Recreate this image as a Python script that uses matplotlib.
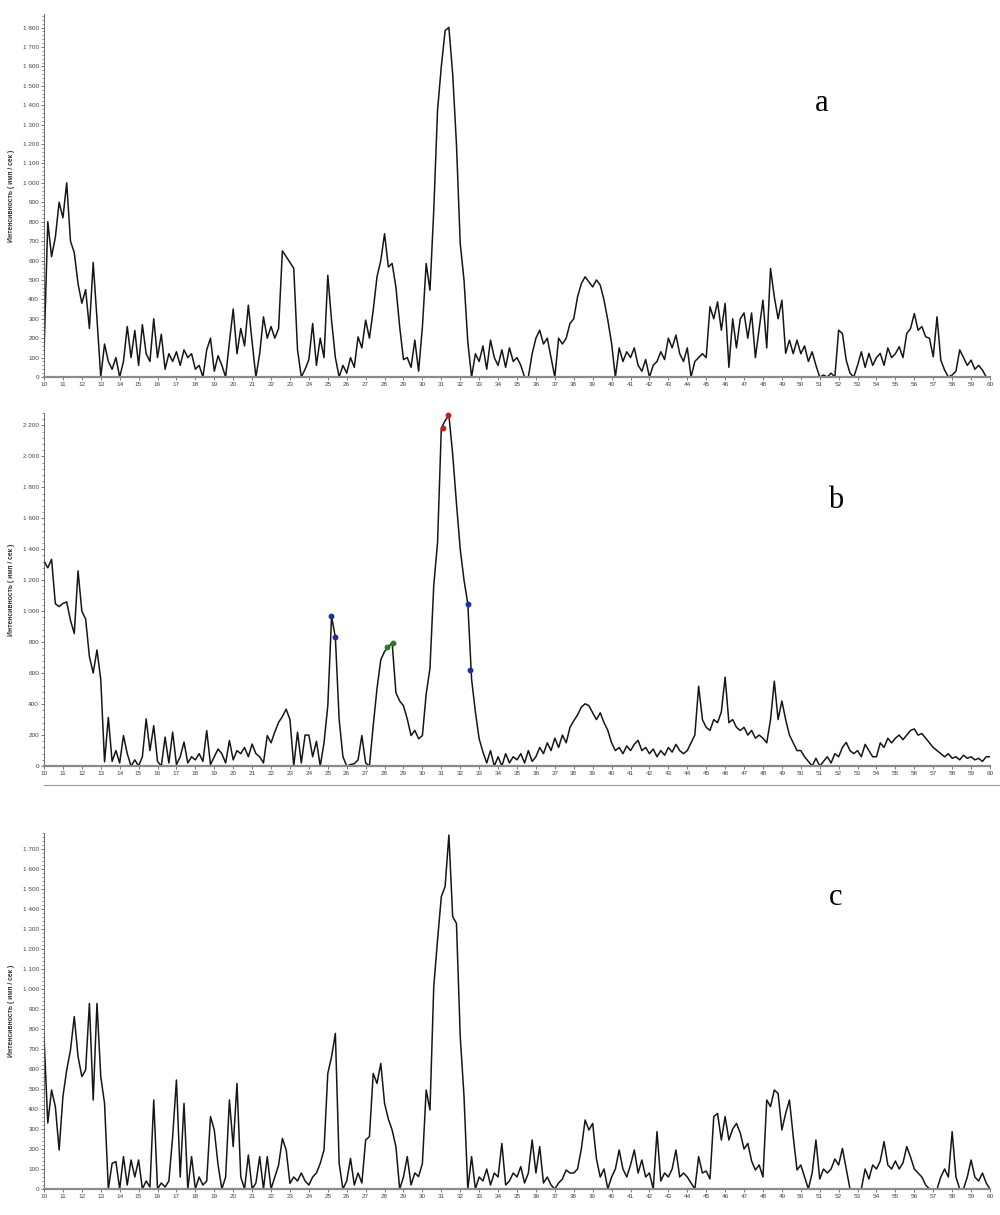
import numpy as np
import matplotlib
matplotlib.use("Agg")
import matplotlib.pyplot as plt
from matplotlib.ticker import MultipleLocator, FuncFormatter
from matplotlib.lines import Line2D

plt.rcParams['font.family'] = ['Liberation Sans', 'DejaVu Sans']

# 2-theta grid, 0.2 degree step from 10 to 60
two_theta = np.round(np.arange(10.0, 60.01, 0.2), 1)

# sample a
int_a = [
    120, 800, 620, 720, 900,
    820, 1000, 700, 640, 480,
    380, 450, 250, 590, 300,
    0, 170, 80, 40, 100,
    0, 80, 260, 100, 240,
    60, 270, 120, 80, 300,
    100, 220, 40, 120, 80,
    130, 60, 140, 100, 120,
    40, 60, 0, 140, 200,
    30, 110, 60, 0, 180,
    350, 120, 250, 160, 370,
    180, 0, 120, 310, 200,
    260, 200, 250, 650, 620,
    590, 560, 140, 0, 40,
    90, 276, 60, 200, 100,
    524, 290, 100, 0, 60,
    20, 100, 50, 207, 150,
    293, 200, 344, 516, 600,
    738, 567, 585, 464, 258,
    90, 100, 50, 190, 30,
    258, 585, 447, 858, 1373,
    1600, 1784, 1801, 1561, 1200,
    687, 499, 180, 0, 120,
    80, 160, 40, 190, 100,
    60, 140, 50, 150, 80,
    100, 60, 0, 0, 120,
    200, 241, 170, 200, 100,
    0, 200, 170, 200, 276,
    300, 413, 481, 516, 490,
    464, 500, 473, 396, 293,
    173, 0, 150, 80, 130,
    100, 150, 60, 30, 90,
    0, 60, 80, 130, 90,
    200, 150, 216, 120, 80,
    150, 0, 80, 100, 120,
    100, 362, 300, 387, 241,
    379, 50, 300, 150, 300,
    330, 200, 330, 100, 250,
    396, 150, 559, 413, 300,
    396, 122, 190, 120, 190,
    120, 160, 80, 130, 60,
    0, 10, 0, 20, 0,
    241, 224, 87, 20, 0,
    60, 130, 50, 122, 60,
    100, 122, 60, 150, 100,
    120, 156, 100, 224, 250,
    327, 241, 260, 207, 200,
    104, 310, 87, 36, 0,
    10, 30, 140, 100, 60,
    87, 40, 60, 36, 0,
    0,
]

# sample b
int_b = [
    1324, 1280, 1335, 1048, 1030,
    1050, 1060, 941, 856, 1260,
    1000, 950, 707, 601, 750,
    559, 27, 314, 30, 100,
    20, 197, 80, 0, 40,
    0, 60, 304, 100, 261,
    30, 0, 187, 20, 219,
    10, 60, 155, 20, 60,
    40, 80, 30, 229, 10,
    60, 110, 80, 20, 165,
    40, 100, 80, 120, 60,
    142, 80, 60, 20, 197,
    150, 220, 282, 320, 367,
    300, 0, 219, 20, 200,
    200, 60, 160, 0, 150,
    389, 967, 831, 300, 60,
    0, 10, 15, 40, 197,
    20, 0, 261, 500, 686,
    740, 767, 797, 474, 420,
    389, 304, 197, 230, 176,
    197, 465, 631, 1167, 1441,
    2181, 2230, 2266, 2015, 1696,
    1400, 1200, 1048, 560, 350,
    176, 91, 20, 100, 0,
    60, 0, 80, 20, 60,
    40, 80, 20, 100, 30,
    60, 120, 80, 150, 100,
    180, 120, 200, 150, 250,
    293, 330, 380, 402, 390,
    344, 300, 344, 280, 230,
    150, 100, 120, 80, 130,
    100, 140, 166, 100, 120,
    80, 110, 60, 100, 70,
    120, 90, 140, 100, 80,
    100, 150, 200, 516, 300,
    250, 230, 300, 280, 350,
    574, 280, 300, 250, 230,
    250, 200, 230, 180, 200,
    180, 150, 300, 548, 300,
    420, 300, 200, 150, 100,
    100, 60, 30, 0, 50,
    0, 30, 60, 20, 80,
    60, 120, 153, 100, 80,
    100, 60, 140, 100, 60,
    60, 150, 120, 180, 150,
    180, 200, 170, 200, 230,
    240, 200, 210, 180, 150,
    120, 100, 80, 60, 80,
    50, 60, 40, 70, 50,
    60, 40, 50, 30, 60,
    60,
]

# sample c
int_c = [
    760, 330, 495, 412, 195,
    462, 595, 695, 862, 662,
    562, 595, 928, 445, 928,
    562, 428, 0, 128, 137,
    0, 162, 20, 145, 60,
    145, 0, 40, 10, 445,
    0, 30, 10, 40, 262,
    545, 60, 428, 0, 162,
    0, 60, 20, 40, 362,
    295, 120, 0, 60, 445,
    212, 528, 60, 0, 170,
    0, 30, 162, 0, 162,
    0, 60, 120, 253, 195,
    28, 60, 40, 80, 40,
    20, 60, 80, 128, 195,
    578, 662, 778, 128, 0,
    40, 153, 20, 80, 30,
    245, 262, 578, 528, 628,
    428, 350, 295, 212, 0,
    60, 162, 20, 80, 62,
    128, 495, 395, 1012, 1245,
    1462, 1512, 1770, 1362, 1328,
    762, 462, 0, 162, 0,
    60, 40, 100, 20, 80,
    60, 228, 20, 40, 80,
    60, 112, 30, 80, 245,
    80, 212, 30, 60, 20,
    0, 30, 50, 95, 80,
    80, 100, 200, 345, 295,
    328, 150, 60, 100, 0,
    60, 100, 195, 100, 60,
    120, 195, 80, 145, 60,
    80, 0, 287, 40, 80,
    60, 100, 195, 60, 80,
    60, 30, 0, 162, 80,
    90, 50, 362, 378, 245,
    362, 245, 300, 328, 280,
    200, 228, 140, 95, 120,
    60, 445, 412, 495, 478,
    295, 378, 445, 262, 95,
    120, 60, 0, 80, 245,
    50, 100, 80, 100, 150,
    120, 203, 100, 0, 0,
    0, 0, 100, 50, 120,
    100, 140, 237, 120, 100,
    140, 100, 130, 212, 160,
    100, 80, 60, 20, 0,
    0, 0, 60, 100, 60,
    287, 60, 0, 0, 60,
    145, 60, 40, 80, 30,
    0,
]

# peak markers on pattern b
blue_x = [25.17, 25.4, 32.39, 32.52]
blue_y = [967, 831, 1048, 619]
green_x = [28.15, 28.43]
green_y = [767, 797]
red_x = [31.07, 31.34]
red_y = [2181, 2266]

ylabel = "Интенсивность ( имп / сек )"
thousands = FuncFormatter(lambda v, p: f"{int(v):,}".replace(",", " "))

fig = plt.figure(figsize=(10, 12.15), dpi=100)

# [left, bottom, width, height], ymax, major, minor, letter position
panels = [
    (int_a, [0.044, 0.6897, 0.946, 0.2988], 1870, 100, 20, "a", (0.822, 0.915)),
    (int_b, [0.044, 0.3695, 0.946, 0.2906], 2280, 200, 40, "b", (0.836, 0.588)),
    (int_c, [0.044, 0.0214, 0.946, 0.2930], 1780, 100, 20, "c", (0.836, 0.261)),
]

axes = []
for data, rect, ymax, major, minor, letter, pos in panels:
    ax = fig.add_axes(rect)
    ax.plot(two_theta, data, color="#161616", lw=1.1)
    ax.set_xlim(10, 60)
    ax.set_ylim(0, ymax)
    ax.xaxis.set_major_locator(MultipleLocator(1))
    ax.yaxis.set_major_locator(MultipleLocator(major))
    ax.yaxis.set_minor_locator(MultipleLocator(minor))
    ax.yaxis.set_major_formatter(thousands)
    ax.tick_params(axis="both", labelsize=4.6, colors="#444444", length=2, width=0.5, pad=1.5)
    ax.tick_params(axis="y", which="minor", length=1.2, width=0.4, colors="#444444")
    for s in ["top", "right"]:
        ax.spines[s].set_visible(False)
    ax.spines["left"].set_color("#555555")
    ax.spines["left"].set_linewidth(0.6)
    ax.spines["bottom"].set_color("#8a8a8a")
    ax.spines["bottom"].set_linewidth(1.6)
    ax.set_ylabel(ylabel, fontsize=4.9, fontweight="bold", color="#333333")
    ax.yaxis.set_label_coords(-0.031, 0.5)
    fig.text(pos[0], pos[1], letter, fontsize=22, family="Liberation Serif",
             ha="center", va="center")
    axes.append(ax)

ax_b = axes[1]
ax_b.plot(blue_x, blue_y, "o", color="#1f2f9a", ms=3.2, clip_on=False)
ax_b.plot(green_x, green_y, "o", color="#2a7a2a", ms=3.2, clip_on=False)
ax_b.plot(red_x, red_y, "o", color="#c81e1e", ms=3.2, clip_on=False)

# separator line under panel b
fig.add_artist(Line2D([0.044, 1.0], [1 - 785 / 1215, 1 - 785 / 1215],
                      color="#9a9a9a", lw=0.8))

fig.savefig("out.png", dpi=100)
